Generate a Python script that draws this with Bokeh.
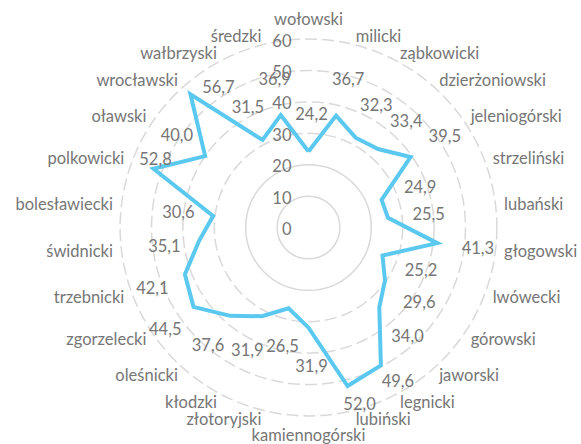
import math
from bokeh.plotting import figure
from bokeh.models import Range1d, ColumnDataSource
from bokeh.core.properties import value
from bokeh.embed import file_html
from bokeh.resources import INLINE

# ---- data ----
categories = ["wołowski", "milicki", "ząbkowicki", "dzierżoniowski", "jeleniogórski",
              "strzeliński", "lubański", "głogowski", "lwówecki", "górowski", "jaworski",
              "legnicki", "lubiński", "kamiennogórski", "złotoryjski", "kłodzki",
              "oleśnicki", "zgorzelecki", "trzebnicki", "świdnicki", "bolesławiecki",
              "polkowicki", "oławski", "wrocławski", "wałbrzyski", "średzki"]
values = [24.2, 36.7, 32.3, 33.4, 39.5, 24.9, 25.5, 41.3, 25.2, 29.6, 34.0, 49.6, 52.0,
          31.9, 26.5, 31.9, 37.6, 44.5, 42.1, 35.1, 30.6, 52.8, 40.0, 56.7, 31.5, 36.9]
ring_ticks = [0, 10, 20, 30, 40, 50, 60]

# ---- layout / style ----
W, H = 581, 444
S = 3.14            # px per value unit
CX, CY = 308, 227   # centre in figure px (from left / top)
FONT = value("Lato")
FS = "16.5px"
TXT = "#767676"
GRID = "#d9d9d9"
LINE = "#5bc8f0"
label_shift = {11: (17, 15), 12: (12, 17), 21: (2, -10), 23: (28, -8)}  # px overrides

p = figure(width=W, height=H, output_backend="svg", toolbar_location=None,
           x_range=Range1d(-CX / S, (W - CX) / S), y_range=Range1d(-(H - CY) / S, CY / S),
           x_axis_type=None, y_axis_type=None, min_border=0)
p.grid.visible = False
p.outline_line_color = None
p.background_fill_color = "white"

# rings
solid = [t for t in ring_ticks if 0 < t <= 20]
dashed = [t for t in ring_ticks if t > 20]
p.circle(x=[0] * len(solid), y=[0] * len(solid), radius=solid, fill_color=None,
         line_color=GRID, line_width=1.5)
p.circle(x=[0] * len(dashed), y=[0] * len(dashed), radius=dashed, fill_color=None,
         line_color=GRID, line_width=1.5, line_dash="12 5")

# tick labels
p.text(x=[0] * len(ring_ticks), y=ring_ticks, text=[str(t) for t in ring_ticks],
       x_offset=-17, y_offset=1, text_align="right", text_baseline="middle",
       text_font=FONT, text_font_size=FS, text_color=TXT)

n = len(categories)
angles = [2 * math.pi * i / n for i in range(n)]
xs = [v * math.sin(a) for v, a in zip(values, angles)]
ys = [v * math.cos(a) for v, a in zip(values, angles)]

p.line(xs + xs[:1], ys + ys[:1], line_color=LINE, line_width=4, line_join="miter")

# value labels
xo, yo = [], []
for i, a in enumerate(angles):
    if i in label_shift:
        dx, dy = label_shift[i]
    else:
        dx, dy = 38 * math.sin(a) + 3, -38 * math.cos(a)
    xo.append(dx)
    yo.append(dy)
lbl = ColumnDataSource(dict(x=xs, y=ys, xo=xo, yo=yo,
                            t=[f"{v:.1f}".replace(".", ",") for v in values]))
p.text(x="x", y="y", text="t", x_offset="xo", y_offset="yo", source=lbl,
       text_align="center", text_baseline="middle",
       text_font=FONT, text_font_size=FS, text_color=TXT)

# category labels
cx, cy, al = [], [], []
for i, a in enumerate(angles):
    if i == 0:
        R, align = 209, "center"
    elif i * 2 == n:
        R, align = 207, "center"
    elif i < n / 2:
        R, align = 197, "left"
    else:
        R, align = 197, "right"
    cx.append(R / S * math.sin(a))
    cy.append(R / S * math.cos(a))
    al.append(align)
cat = ColumnDataSource(dict(x=cx, y=cy, t=categories, al=al))
p.text(x="x", y="y", text="t", source=cat, text_align="al", text_baseline="middle",
       text_font=FONT, text_font_size=FS, text_color=TXT)

open("out.html", "w").write(file_html(p, INLINE))
